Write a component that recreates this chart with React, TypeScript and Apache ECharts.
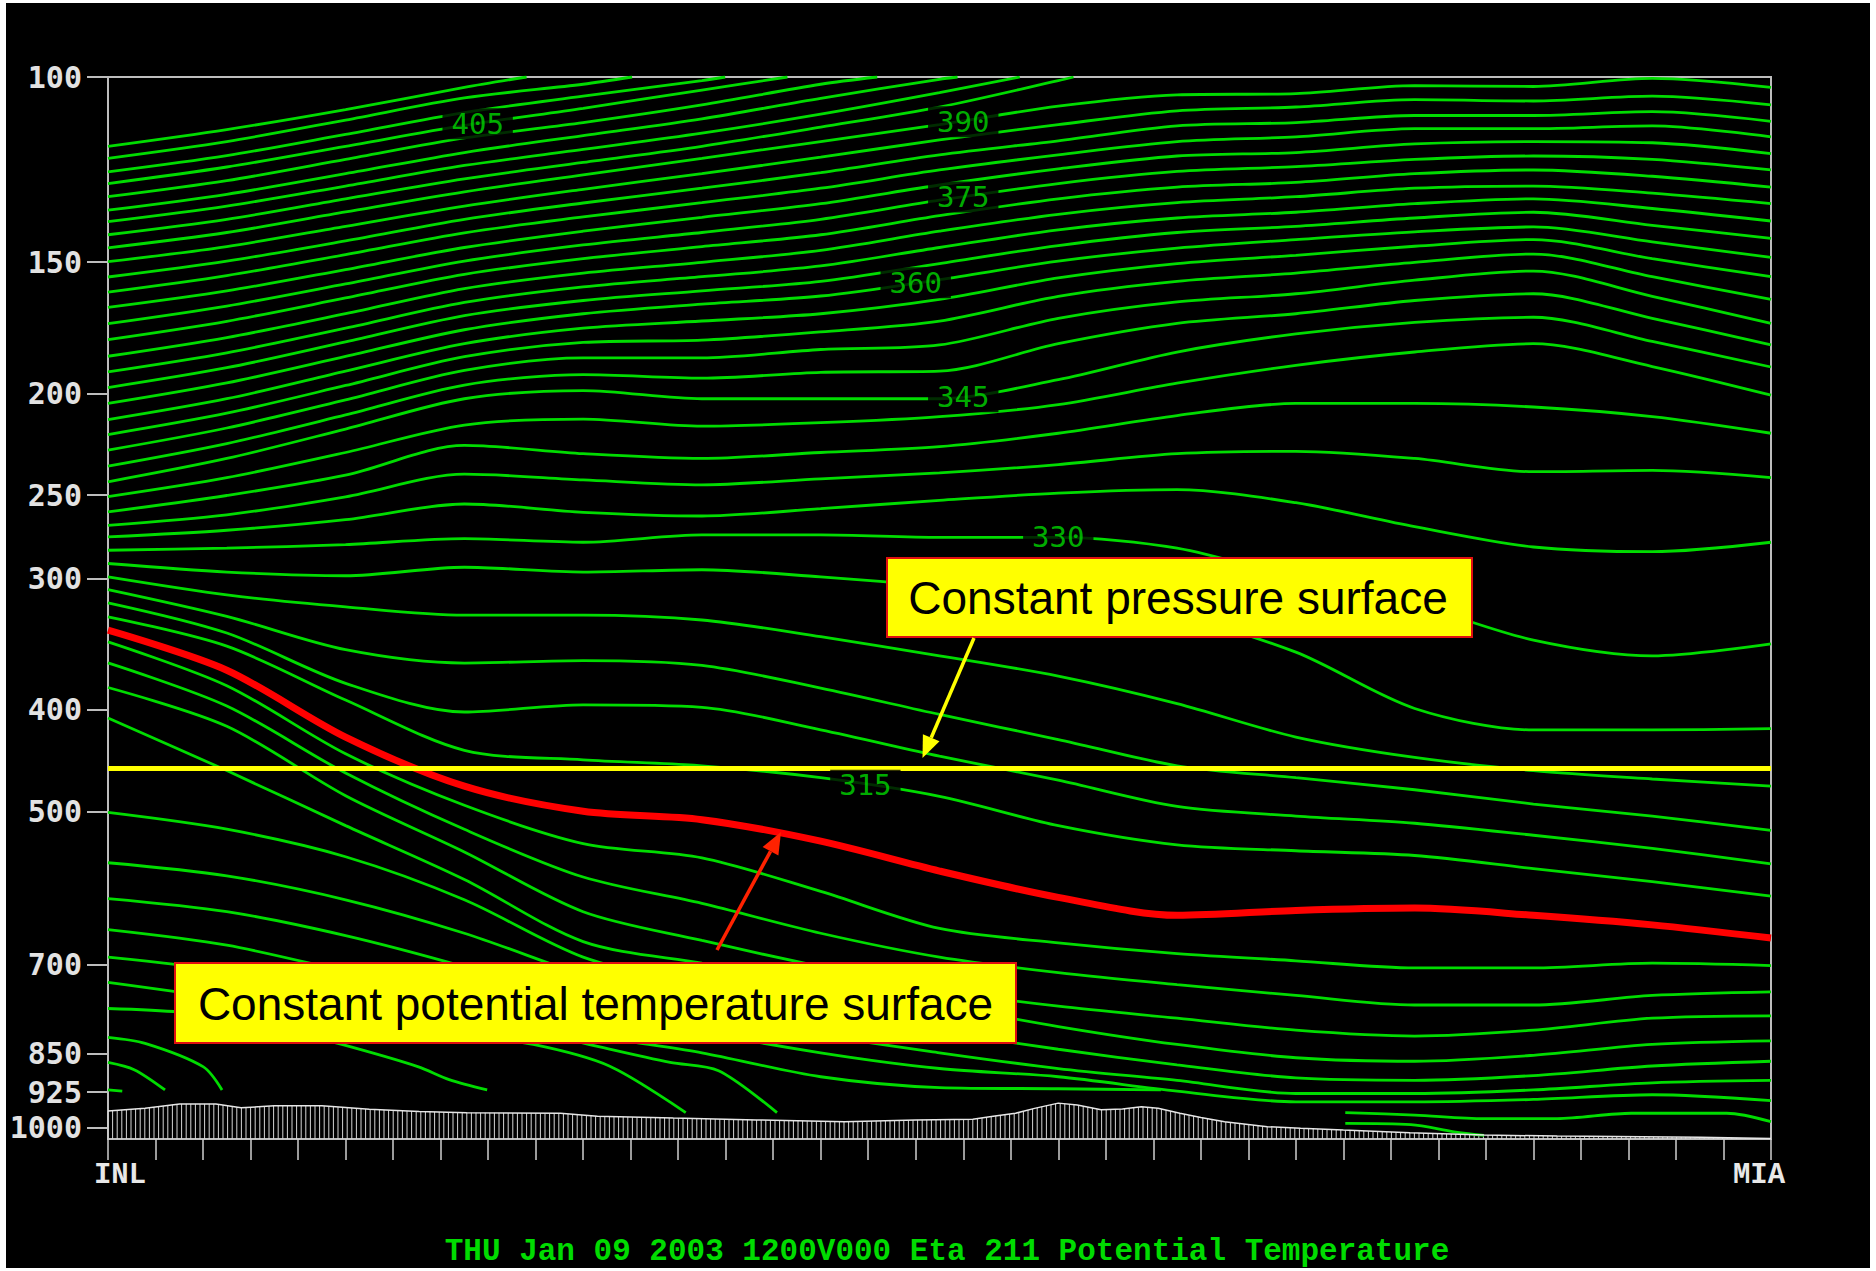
import React, { useEffect, useRef } from 'react';
import * as echarts from 'echarts';

// ---- axis ----
const P_TOP = 100;
const P_BOTTOM = 1025;
const Y_TICKS = [100, 150, 200, 250, 300, 400, 500, 700, 850, 925, 1000];
const X_MIN = 0;
const X_MAX = 35; // INL -> MIA
const END_LABELS = ['INL', 'MIA'];
const TITLE = 'THU Jan 09 2003 1200V000 Eta 211 Potential Temperature';
const PRESSURE_SURFACE = 455;

// common stations along the cross-section
const X_ST = [0, 2.5, 5, 7.5, 10, 12.5, 15, 17.5, 20, 22.5, 25, 27.5, 30, 32.5, 35];

// isentropes leaving through the 100 hPa top (own x positions), pressures in hPa
const X414 = [0, 2.5, 5, 7.5, 8.81];
const P414 = [116.4, 112.2, 107.4, 102.3, 100];
const X411 = [0, 2.5, 5, 7.5, 10, 11.03];
const P411 = [119.5, 115.2, 109.9, 104.7, 101.6, 100];
const X408 = [0, 2.5, 5, 7.5, 10, 12.5, 12.99];
const P408 = [123.1, 118.8, 113.4, 108.1, 104.3, 100.8, 100];
const X405 = [0, 2.5, 5, 7.5, 10, 12.5, 14.3];
const P405 = [126.3, 121.8, 116.4, 111.2, 107.1, 102.9, 100];
const X402 = [0, 2.5, 5, 7.5, 10, 12.5, 15, 16.19];
const P402 = [130.0, 125.5, 119.8, 114.3, 110.5, 106.3, 101.6, 100];
const X399 = [0, 2.5, 5, 7.5, 10, 12.5, 15, 17.5, 17.88];
const P399 = [133.9, 129.3, 123.6, 118.0, 113.7, 109.6, 104.8, 100.5, 100];
const X396 = [0, 2.5, 5, 7.5, 10, 12.5, 15, 17.5, 19.19];
const P396 = [137.3, 132.7, 127.0, 121.4, 117.2, 113.1, 108.5, 103.5, 100];
const X393 = [0, 2.5, 5, 7.5, 10, 12.5, 15, 17.5, 20, 20.32];
const P393 = [141.3, 136.6, 130.6, 125.0, 120.6, 116.4, 111.6, 106.8, 100.8, 100];

// isentropes spanning the whole section (at X_ST)
const P390 = [145.4, 140.6, 134.4, 128.6, 123.9, 119.5, 115.2, 111.0, 106.6, 104.0, 103.7, 101.9, 102.1, 100.3, 102.3];
const P387 = [149.9, 145.0, 138.7, 132.7, 127.9, 123.6, 119.2, 114.8, 111.0, 107.7, 106.8, 105.1, 105.4, 104.3, 106.3];
const P384 = [155.0, 149.7, 143.2, 136.6, 131.8, 127.6, 123.3, 118.6, 115.0, 111.3, 110.5, 108.8, 108.8, 107.9, 110.2];
const P381 = [160.2, 154.5, 147.6, 140.7, 135.9, 131.7, 127.6, 122.6, 118.6, 115.2, 114.0, 112.0, 112.0, 111.3, 114.0];
const P378 = [165.7, 159.8, 152.5, 145.3, 140.2, 136.0, 132.0, 126.7, 122.3, 118.9, 118.0, 115.8, 115.2, 115.5, 118.3];
const P375 = [171.7, 165.2, 157.4, 149.7, 144.5, 140.6, 136.6, 131.0, 126.3, 123.0, 121.7, 119.8, 118.9, 119.8, 122.6];
const P372 = [177.8, 170.8, 162.3, 154.1, 148.9, 145.0, 141.3, 135.5, 130.6, 127.3, 126.0, 123.6, 122.6, 124.3, 127.3];
const P369 = [184.4, 177.0, 168.0, 159.0, 153.7, 150.1, 146.2, 140.2, 135.1, 131.7, 130.0, 127.6, 127.0, 129.0, 132.0];
const P366 = [190.8, 183.0, 173.4, 163.9, 158.4, 154.9, 151.3, 145.3, 139.8, 136.2, 134.5, 132.0, 130.6, 133.4, 137.1];
const P363 = [197.5, 189.1, 178.7, 168.7, 163.2, 159.8, 156.5, 150.5, 144.7, 140.6, 138.7, 136.2, 134.5, 138.4, 142.4];
const P360 = [204.5, 195.5, 184.5, 174.0, 168.0, 164.5, 161.6, 155.9, 149.7, 145.5, 142.8, 140.4, 138.9, 143.5, 148.5];
const P357 = [211.9, 202.4, 190.5, 179.4, 173.4, 170.7, 168.0, 162.8, 155.3, 150.5, 147.8, 144.9, 142.8, 148.9, 154.9];
const P354 = [218.9, 208.9, 196.6, 184.6, 178.9, 178.0, 174.8, 170.7, 161.7, 156.5, 153.7, 150.1, 147.4, 154.9, 162.8];
const P351 = [226.5, 215.8, 202.9, 190.2, 185.1, 185.1, 181.7, 179.9, 169.7, 163.7, 160.8, 156.1, 153.0, 161.7, 171.6];
const P348 = [234.6, 223.3, 209.7, 196.4, 192.0, 193.5, 191.0, 190.5, 179.4, 171.6, 168.0, 163.2, 160.8, 169.7, 179.9];
const P345 = [242.8, 230.7, 216.3, 202.4, 198.8, 202.4, 202.4, 202.4, 194.1, 182.7, 175.6, 171.2, 169.3, 178.5, 188.8];
const P342 = [250.8, 240.6, 227.7, 214.4, 211.6, 214.9, 213.3, 210.5, 205.0, 195.6, 188.1, 182.7, 179.4, 188.6, 200.8];
const P339 = [259.4, 250.2, 239.3, 224.2, 228.3, 230.7, 227.7, 224.8, 218.3, 210.0, 204.5, 204.5, 206.1, 210.5, 218.3];
const P336 = [267.1, 261.0, 250.9, 238.8, 241.8, 244.4, 241.2, 238.1, 233.8, 228.3, 227.1, 230.7, 237.5, 236.8, 240.6];
const P333 = [274.0, 270.0, 263.8, 254.9, 259.6, 261.7, 257.5, 252.9, 248.9, 247.0, 254.2, 267.9, 280.1, 283.0, 277.2];
const P330 = [282.1, 280.8, 278.6, 275.0, 277.2, 272.8, 272.8, 274.3, 274.3, 280.8, 299.8, 317.6, 343.5, 355.5, 346.3];
const P327 = [290.4, 295.9, 298.3, 292.8, 295.9, 294.4, 299.1, 305.4, 313.5, 326.1, 352.7, 399.0, 418.2, 418.2, 417.1];
const P324 = [299.1, 311.1, 319.3, 325.2, 325.2, 328.7, 340.9, 355.5, 371.7, 394.8, 424.8, 444.2, 457.2, 465.7, 473.1];
const P321 = [307.5, 326.1, 350.8, 361.2, 359.3, 363.1, 381.6, 404.3, 427.1, 452.4, 464.4, 476.8, 492.0, 505.1, 521.2];
const P318 = [316.5, 338.2, 377.6, 402.1, 395.9, 398.0, 418.2, 443.0, 466.9, 494.6, 505.1, 513.1, 526.8, 542.1, 560.9];
const P315 = [326.4, 348.1, 391.7, 437.3, 446.5, 452.4, 464.4, 483.8, 515.8, 537.9, 545.0, 550.7, 566.8, 583.2, 602.0];
const P312 = [336.1, 366.9, 424.8, 473.1, 499.8, 509.1, 533.7, 569.8, 603.6, 627.8, 621.2, 618.0, 627.8, 641.1, 659.8]; // highlighted
const P309 = [344.8, 379.6, 440.7, 493.3, 536.5, 553.6, 595.8, 646.2, 666.8, 682.7, 693.6, 704.6, 704.6, 697.2, 700.9];
const P306 = [361.1, 396.9, 459.6, 520.0, 577.3, 611.6, 653.0, 688.1, 712.0, 730.9, 748.3, 764.2, 764.2, 748.3, 742.4];
const P303 = [381.1, 414.9, 483.1, 546.4, 622.9, 663.4, 702.7, 740.5, 766.2, 786.6, 807.5, 818.1, 807.5, 786.6, 782.5];
const P300 = [407.4, 457.2, 515.8, 580.4, 665.0, 697.2, 729.1, 764.2, 801.1, 833.2, 857.8, 864.4, 853.2, 833.2, 826.7];
const P297 = [501.1, 519.9, 552.2, 606.8, 688.1, 734.8, 774.3, 809.5, 842.0, 871.2, 896.7, 901.4, 892.0, 873.5, 864.4];
const P294 = [559.5, 575.8, 606.8, 653.0, 715.8, 774.3, 816.0, 848.6, 878.3, 901.4, 927.7, 927.7, 920.5, 906.2, 901.4];
const P291 = [605.2, 622.8, 656.4, 702.7, 760.2, 809.5, 848.6, 878.3, 894.3, 922.9, 944.9, 944.9, 939.9, 930.3, 942.4];

// low isentropes that run into the ground (own x positions)
const X288A = [0, 2.5, 5, 7.5, 8.95, 10.35, 12.5, 15, 17.5, 20, 22.16];
const P288A = [647.9, 670.3, 710.1, 754.3, 784.5, 818.1, 848.6, 894.3, 915.7, 918.1, 920.5];
const X288B = [26.04, 27.5, 28.96, 30.5, 32.06, 34.07, 35];
const P288B = [967.5, 972.6, 980.2, 980.2, 968.8, 968.8, 986.8];
const X285A = [0, 2.5, 5, 7.5, 8.95, 10.35, 11.83, 12.85, 14.08];
const P285A = [688.1, 710.1, 752.3, 788.6, 809.5, 837.6, 866.6, 882.6, 967.5];
const X285B = [26.04, 27.42, 28.33, 28.96];
const P285B = [990.6, 993.2, 1008.9, 1016.9];
const X282 = [0, 2.5, 5, 7.5, 8.95, 10.55, 12.16];
const P282 = [727.1, 754.3, 788.6, 818.1, 833.2, 873.5, 967.5];
const X279 = [0, 1.51, 2.5, 3.78, 4.92, 6.52, 7.18, 7.98];
const P279 = [770.1, 776.2, 788.6, 809.5, 833.2, 874.7, 900.0, 920.5];
const X276 = [0, 0.78, 2.0, 2.4];
const P276 = [820.2, 831.1, 874.7, 920.5];
const X273 = [0, 0.55, 1.2];
const P273 = [866.6, 880.5, 920.5];
const X270 = [0, 0.3];
const P270 = [920.5, 923.0];

// surface pressure along the section
const TERRAIN_X = [0, 0.78, 1.51, 2.27, 2.8, 3.5, 4.5, 5.5, 6.55, 7.55, 9.52, 10.3, 11.9, 13.65, 15.5, 17.0, 18.2, 18.63, 19.1, 19.5, 20.0, 20.4, 20.9, 21.35, 21.75, 22.1, 22.56, 23.0, 23.5, 24.4, 25.1, 26.0, 27.4, 28.96, 30.5, 33.5, 35];
const TERRAIN_P = [964.0, 958.0, 949.1, 949.1, 957.2, 953.2, 953.2, 960.5, 965.0, 967.5, 968.8, 975.2, 979.1, 983.0, 986.8, 983.0, 981.7, 975.2, 968.8, 958.5, 947.5, 951.2, 961.2, 960.0, 955.0, 958.2, 968.8, 977.8, 986.8, 997.8, 1001.3, 1005.2, 1011.0, 1016.1, 1018.5, 1021.0, 1024.0];

// contour labels: [theta, x, p]
const LABELS: [number, number, number][] = [
  [405, 7.78, 110.8],
  [390, 18.0, 110.3],
  [375, 18.0, 130.1],
  [360, 17.0, 157.0],
  [345, 18.0, 201.5],
  [330, 20.0, 274.3],
  [315, 15.94, 472.0],
];

const EXIT_LINES: [number[], number[]][] = [
  [X414, P414], [X411, P411], [X408, P408], [X405, P405],
  [X402, P402], [X399, P399], [X396, P396], [X393, P393],
];
const FULL_LINES: number[][] = [
  P390, P387, P384, P381, P378, P375, P372, P369, P366, P363, P360, P357, P354, P351,
  P348, P345, P342, P339, P336, P333, P330, P327, P324, P321, P318, P315,
  P309, P306, P303, P300, P297, P294, P291,
];
const LOW_LINES: [number[], number[]][] = [
  [X288A, P288A], [X288B, P288B], [X285A, P285A], [X285B, P285B],
  [X282, P282], [X279, P279], [X276, P276], [X273, P273], [X270, P270],
];

const GREEN = '#00dc00';
const lg = (p: number) => Math.log10(p);
const toData = (xs: number[], ps: number[]) => xs.map((x, i) => [x, lg(ps[i])]);

export default function App() {
  const ref = useRef<HTMLDivElement>(null);

  useEffect(() => {
    if (!ref.current) return;
    const chart = echarts.init(ref.current, null, { renderer: 'svg' });
    const yMax = lg(P_BOTTOM);

    const greenLine = (data: number[][]) => ({
      type: 'line',
      data,
      showSymbol: false,
      symbol: 'none',
      smooth: 0.3,
      silent: true,
      z: 2,
      lineStyle: { color: GREEN, width: 2.8 },
    });

    const series: any[] = [];

    const hatchData = TERRAIN_X.slice(0, -1).map((x, i) => [
      x, lg(TERRAIN_P[i]), TERRAIN_X[i + 1], lg(TERRAIN_P[i + 1]),
    ]);
    series.push({
      type: 'custom',
      data: hatchData,
      encode: { x: [0, 2], y: [1, 3] },
      silent: true,
      z: 1,
      renderItem: (params: any, api: any) => {
        const a = api.coord([api.value(0), api.value(1)]);
        const b = api.coord([api.value(2), api.value(3)]);
        const base = api.coord([api.value(0), yMax])[1];
        const step = 4.6;
        const x0 = params.coordSys.x;
        const children: any[] = [];
        let X = x0 + Math.ceil((a[0] - x0) / step) * step;
        for (; X < b[0]; X += step) {
          const t = (X - a[0]) / (b[0] - a[0]);
          const Y = a[1] + t * (b[1] - a[1]);
          children.push({
            type: 'line',
            shape: { x1: X, y1: Y, x2: X, y2: base },
            style: { stroke: '#d4d4d4', lineWidth: 1 },
          });
        }
        return { type: 'group', children };
      },
    });

    series.push({
      type: 'line',
      data: toData(TERRAIN_X, TERRAIN_P),
      showSymbol: false,
      symbol: 'none',
      silent: true,
      z: 3,
      lineStyle: { color: '#e6e6e6', width: 1.5 },
    });

    EXIT_LINES.forEach(([xs, ps]) => series.push(greenLine(toData(xs, ps))));
    FULL_LINES.forEach((ps) => series.push(greenLine(toData(X_ST, ps))));
    LOW_LINES.forEach(([xs, ps]) => series.push(greenLine(toData(xs, ps))));

    series.push({
      type: 'line',
      data: toData(X_ST, P312),
      showSymbol: false,
      symbol: 'none',
      smooth: 0.3,
      silent: true,
      z: 4,
      lineStyle: { color: '#ff0000', width: 7 },
    });

    series.push({
      type: 'line',
      data: [[X_MIN, lg(PRESSURE_SURFACE)], [X_MAX, lg(PRESSURE_SURFACE)]],
      showSymbol: false,
      symbol: 'none',
      silent: true,
      z: 5,
      lineStyle: { color: '#ffff00', width: 5 },
    });

    series.push({
      type: 'scatter',
      data: LABELS.map(([t, x, p]) => ({ name: String(t), value: [x, lg(p)] })),
      symbol: 'circle',
      symbolSize: 1,
      itemStyle: { color: '#000' },
      silent: true,
      z: 6,
      label: {
        show: true,
        position: 'inside',
        formatter: '{b}',
        color: GREEN,
        fontSize: 29,
        fontFamily: 'DejaVu Sans Mono',
        backgroundColor: '#000',
        padding: [1, 9],
      },
    });

    const yTickVals = Y_TICKS.map(lg);

    const option: any = {
      animation: false,
      backgroundColor: '#000',
      grid: {
        left: 102,
        right: 99,
        top: 74,
        bottom: 129,
        show: true,
        borderColor: '#bdbdbd',
        borderWidth: 2,
        backgroundColor: 'transparent',
      },
      xAxis: {
        type: 'value',
        min: X_MIN,
        max: X_MAX,
        interval: 1,
        axisLine: { show: false },
        splitLine: { show: false },
        axisTick: { show: true, length: 21, lineStyle: { color: '#cfcfcf', width: 1.5 } },
        axisLabel: {
          show: true,
          margin: 22,
          showMinLabel: true,
          showMaxLabel: true,
          formatter: (v: number) =>
            v === X_MIN ? `{a|${END_LABELS[0]}}` : v === X_MAX ? `{b|${END_LABELS[1]}}` : '',
          rich: {
            a: { color: '#e8e8e8', fontSize: 29, fontWeight: 'bold', fontFamily: 'Liberation Mono', padding: [0, 0, 0, 24] },
            b: { color: '#e8e8e8', fontSize: 29, fontWeight: 'bold', fontFamily: 'Liberation Mono', padding: [0, 24, 0, 0] },
          },
        },
      },
      yAxis: {
        type: 'value',
        inverse: true,
        min: lg(P_TOP),
        max: yMax,
        axisLine: { show: false },
        splitLine: { show: false },
        axisTick: {
          show: true,
          length: 21,
          customValues: yTickVals,
          lineStyle: { color: '#bdbdbd', width: 2 },
        },
        axisLabel: {
          show: true,
          margin: 26,
          customValues: yTickVals,
          formatter: (v: number) => String(Math.round(Math.pow(10, v))),
          color: '#e2e2e2',
          fontSize: 30,
          fontWeight: 'bold',
          fontFamily: 'DejaVu Sans Mono',
        },
      },
      series,
      graphic: [
        {
          type: 'rect',
          z: 100,
          shape: { x: 881, y: 555, width: 585, height: 79 },
          style: { fill: '#ffff00', stroke: '#e01010', lineWidth: 2 },
        },
        {
          type: 'text',
          z: 101,
          x: 1172,
          y: 595,
          style: {
            text: 'Constant pressure surface',
            fill: '#000',
            fontSize: 46,
            fontFamily: 'Liberation Sans',
            align: 'center',
            verticalAlign: 'middle',
          },
        },
        {
          type: 'line',
          z: 100,
          shape: { x1: 968, y1: 635, x2: 925.2, y2: 734.8 },
          style: { stroke: '#ffff00', lineWidth: 3.5 },
        },
        {
          type: 'polygon',
          z: 100,
          shape: { points: [[916.5, 755], [933.5, 738.3], [916.9, 731.3]] },
          style: { fill: '#ffff00' },
        },
        {
          type: 'rect',
          z: 100,
          shape: { x: 169, y: 960, width: 841, height: 80 },
          style: { fill: '#ffff00', stroke: '#e01010', lineWidth: 2 },
        },
        {
          type: 'text',
          z: 101,
          x: 589.5,
          y: 1001,
          style: {
            text: 'Constant potential temperature surface',
            fill: '#000',
            fontSize: 46,
            fontFamily: 'Liberation Sans',
            align: 'center',
            verticalAlign: 'middle',
          },
        },
        {
          type: 'line',
          z: 100,
          shape: { x1: 711, y1: 947, x2: 764.5, y2: 848.3 },
          style: { stroke: '#ff2200', lineWidth: 3.5 },
        },
        {
          type: 'polygon',
          z: 100,
          shape: { points: [[775, 829], [772.4, 852.6], [756.6, 844.0]] },
          style: { fill: '#ff2200' },
        },
        {
          type: 'text',
          z: 100,
          x: 941,
          y: 1248,
          style: {
            text: TITLE,
            fill: '#00dc00',
            fontSize: 31,
            fontWeight: 'bold',
            fontFamily: 'Liberation Mono',
            align: 'center',
            verticalAlign: 'middle',
          },
        },
      ],
    };

    chart.setOption(option);
    return () => chart.dispose();
  }, []);

  return (
    <div style={{ position: 'fixed', left: 0, top: 0, width: 1876, height: 1271, background: '#ffffff' }}>
      <div
        ref={ref}
        style={{ position: 'absolute', left: 6, top: 3, width: 1864, height: 1265, background: '#000' }}
      />
    </div>
  );
}
